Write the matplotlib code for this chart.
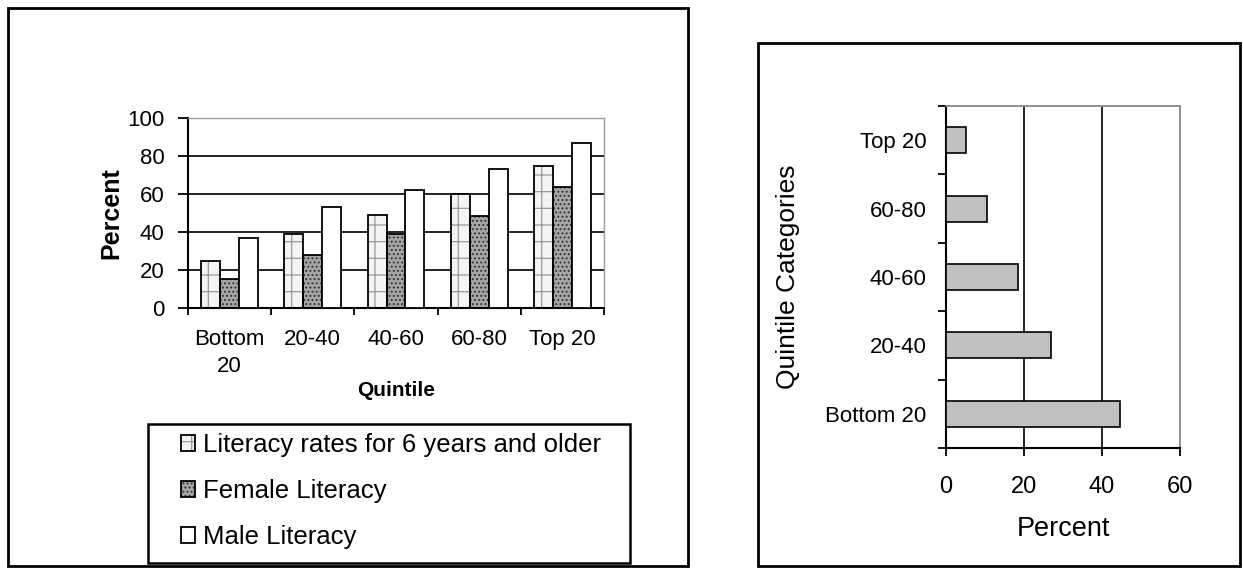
import numpy as np
import matplotlib.pyplot as plt
from matplotlib.patches import Rectangle
from matplotlib.ticker import FixedLocator

plt.rcParams['font.family'] = ['Liberation Sans', 'DejaVu Sans']
plt.rcParams['hatch.linewidth'] = 0.9

# left chart data
quintiles = ['Bottom\n20', '20-40', '40-60', '60-80', 'Top 20']
literacy_all = [25, 39, 49, 60, 75]
literacy_female = [15.5, 28, 39, 48.5, 63.5]
literacy_male = [37, 53, 62, 73, 87]
series_names = ['Literacy rates for 6 years and older', 'Female Literacy', 'Male Literacy']

# right chart data
categories = ['Bottom 20', '20-40', '40-60', '60-80', 'Top 20']
percent = [44.5, 27, 18.5, 10.5, 5]

W, H = 1243, 572
fig = plt.figure(figsize=(W / 100, H / 100), dpi=100)

def fx(px):
    return px / W
def fy(py):
    return 1 - py / H

# outer boxes
fig.patches.append(Rectangle((fx(8), fy(566)), fx(680), 558 / H, transform=fig.transFigure,
                             fill=False, lw=2, ec='black'))
fig.patches.append(Rectangle((fx(758), fy(566)), fx(482), 523 / H, transform=fig.transFigure,
                             fill=False, lw=2, ec='black'))

# ---------------- left chart ----------------
ax = fig.add_axes([fx(188), fy(308), fx(416), 190 / H])
x = np.arange(len(quintiles))
w = 0.227

b1 = ax.bar(x - w, literacy_all, w, color='#f4f4f4', hatch='+', edgecolor='#9a9a9a', lw=0, zorder=2)
b1o = ax.bar(x - w, literacy_all, w, fill=False, edgecolor='black', lw=1.3, zorder=3)
b2 = ax.bar(x, literacy_female, w, color='#a6a6a6', hatch='....', edgecolor='#333333', lw=0, zorder=2)
b2o = ax.bar(x, literacy_female, w, fill=False, edgecolor='black', lw=1.3, zorder=3)
b3 = ax.bar(x + w, literacy_male, w, color='white', edgecolor='black', lw=1.3, zorder=3)

ax.set_xlim(-0.5, len(quintiles) - 0.5)
ax.set_ylim(0, 100)
ax.set_yticks(np.arange(0, 101, 20))
for yv in np.arange(20, 100, 20):
    ax.axhline(yv, color='black', lw=1.2, zorder=1)
ax.xaxis.set_major_locator(FixedLocator(np.arange(len(quintiles) + 1) - 0.5))
ax.xaxis.set_minor_locator(FixedLocator(x))
ax.set_xticklabels([], minor=False)
ax.set_xticklabels(quintiles, minor=True, fontsize=16, linespacing=1.4)
ax.tick_params(axis='x', which='major', direction='out', length=5, width=1.3)
ax.tick_params(axis='x', which='minor', length=0, pad=15)
ax.tick_params(axis='y', direction='out', length=7, width=1.3, pad=10, labelsize=16)
for s in ['left', 'bottom']:
    ax.spines[s].set_linewidth(1.5)
for s in ['top', 'right']:
    ax.spines[s].set_color('#999999')
    ax.spines[s].set_linewidth(1)

ax.set_ylabel('Percent', fontsize=18, fontweight='bold')
ax.yaxis.set_label_coords(-0.156, 0.5)
ax.set_xlabel('Quintile', fontsize=15, fontweight='bold')
ax.xaxis.set_label_coords(0.5, -0.385)

# legend for left chart
fig.patches.append(Rectangle((fx(148), fy(563)), fx(482), 139 / H, transform=fig.transFigure,
                             fill=False, lw=1.8, ec='black'))
fig.legend([(b1, b1o), (b2, b2o), b3], series_names, loc='upper left',
           bbox_to_anchor=(fx(181), fy(433)), frameon=False, borderpad=0, borderaxespad=0,
           fontsize=18.5, handlelength=0.55, handleheight=0.6, handletextpad=0.3,
           labelspacing=0.86)

# ---------------- right chart ----------------
ax2 = fig.add_axes([fx(946), fy(448), fx(234), 342 / H])
y = np.arange(len(categories))
ax2.barh(y, percent, 0.38, color='#c0c0c0', edgecolor='black', lw=1.2, zorder=3)
ax2.set_xlim(0, 60)
ax2.set_ylim(-0.5, len(categories) - 0.5)
ax2.set_xticks([0, 20, 40, 60])
for xv in [20, 40]:
    ax2.axvline(xv, color='black', lw=1.2, zorder=1)
ax2.yaxis.set_major_locator(FixedLocator(np.arange(len(categories) + 1) - 0.5))
ax2.yaxis.set_minor_locator(FixedLocator(y))
ax2.set_yticklabels([], minor=False)
ax2.set_yticklabels(categories, minor=True, fontsize=16)
ax2.tick_params(axis='y', which='major', direction='out', length=6, width=1.3)
ax2.tick_params(axis='y', which='minor', length=0, pad=14)
ax2.tick_params(axis='x', direction='out', length=6, width=1.3, pad=14, labelsize=17)
for s in ['left', 'bottom']:
    ax2.spines[s].set_linewidth(1.5)
for s in ['top', 'right']:
    ax2.spines[s].set_color('#888888')
    ax2.spines[s].set_linewidth(1.3)

ax2.set_ylabel('Quintile Categories', fontsize=19)
ax2.yaxis.set_label_coords(-0.624, 0.5)
ax2.set_xlabel('Percent', fontsize=19.5)
ax2.xaxis.set_label_coords(0.5, -0.2)

fig.savefig('out.png', dpi=100)
